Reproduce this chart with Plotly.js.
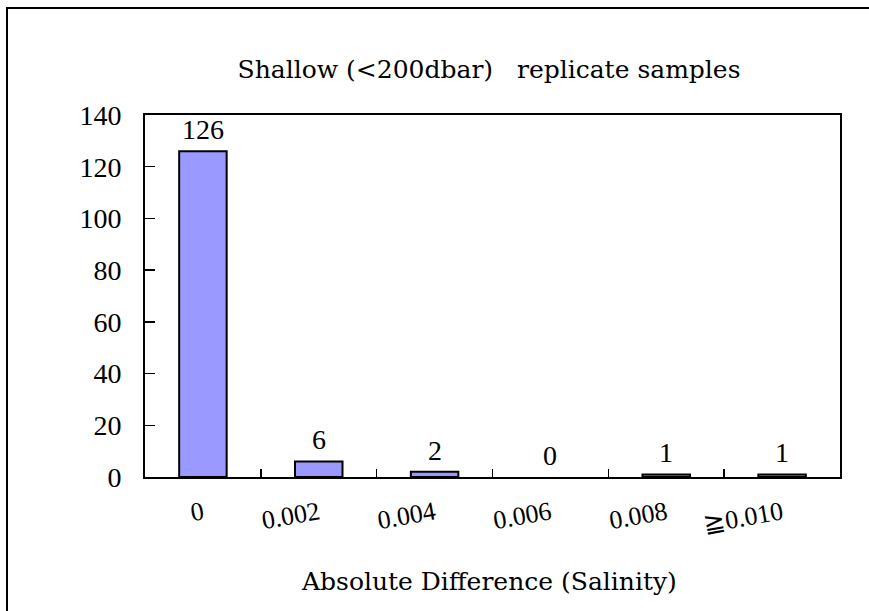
<!DOCTYPE html>
<html><head><meta charset="utf-8">
<script src="https://cdn.plot.ly/plotly-3.0.1.min.js"></script>
<style>
body{margin:0;padding:0;background:#fff;}
#frame{position:absolute;left:6px;top:7px;width:863px;height:604px;border-left:2px solid #000;border-top:2px solid #000;box-sizing:border-box;pointer-events:none;}
#chart{position:absolute;left:0;top:0;width:869px;height:611px;}
</style></head>
<body>
<div id="chart"></div>
<div id="frame"></div>
<script>
const categories = ["0", "0.002", "0.004", "0.006", "0.008", "≧0.010"];
const counts = [126, 6, 2, 0, 1, 1];
const yTicks = [0, 20, 40, 60, 80, 100, 120, 140];

const numFont = "Liberation Serif";
const textFont = "DejaVu Serif";

const labels = categories.map((c, i) => ({
  x: i, y: counts[i], text: String(counts[i]),
  xref: 'x', yref: 'y', xanchor: 'center', yanchor: 'bottom',
  yshift: 4, showarrow: false,
  font: {family: numFont, size: 28, color: '#000'}
}));

Plotly.newPlot('chart', [{
  type: 'bar',
  x: categories,
  y: counts,
  marker: {color: '#9999FF', line: {color: '#000', width: counts.map(v => v > 0 ? 2 : 0)}},
  hoverinfo: 'none'
}], {
  width: 869, height: 611,
  margin: {l: 145, r: 29, t: 115, b: 134},
  paper_bgcolor: 'rgba(0,0,0,0)', plot_bgcolor: '#fff',
  bargap: 0.59,
  showlegend: false,
  font: {family: numFont, color: '#000'},
  title: {text: 'Shallow (&lt;200dbar)   replicate samples', font: {family: textFont, size: 25, color: '#000'}, xref: 'paper', x: 0.495, xanchor: 'center', y: 0.887, yanchor: 'middle'},
  xaxis: {
    type: 'category',
    showline: true, linecolor: '#000', linewidth: 2, mirror: true,
    ticks: 'inside', tickson: 'boundaries', ticklen: 8, tickwidth: 1.5, tickcolor: '#000',
    tickangle: -10, ticklabelstandoff: 9,
    tickfont: {family: numFont, size: 26, color: '#000'},
    showgrid: false, zeroline: false
  },
  yaxis: {
    range: [0, 140], tickvals: yTicks, ticktext: yTicks.map(String),
    showline: true, linecolor: '#000', linewidth: 2, mirror: true,
    ticks: 'inside', ticklen: 10, tickwidth: 1.5, tickcolor: '#000',
    ticklabelstandoff: 16,
    tickfont: {family: numFont, size: 28, color: '#000'},
    showgrid: false, zeroline: false
  },
  annotations: labels.concat([{
    text: 'Absolute Difference (Salinity)', xref: 'paper', yref: 'paper', x: 0.495, y: -0.29,
    xanchor: 'center', yanchor: 'middle', showarrow: false,
    font: {family: textFont, size: 25, color: '#000'}
  }])
}, {staticPlot: true});
</script>
</body></html>
